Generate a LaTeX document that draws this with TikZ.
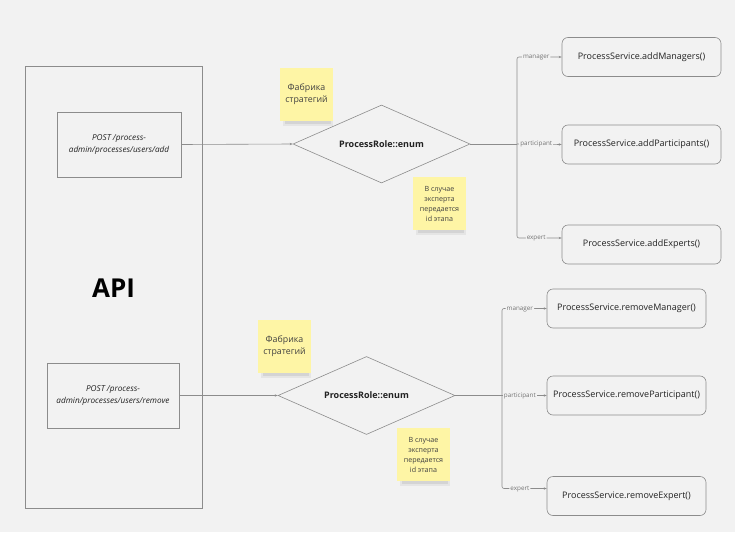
\documentclass[tikz,border=0pt]{standalone}
\usepackage{fontspec}
\setmainfont{Open Sans}
\usetikzlibrary{shapes.geometric,arrows.meta,calc}
\definecolor{bg}{HTML}{F2F2F2}
\definecolor{ln}{HTML}{8C8C8C}
\definecolor{sticky}{HTML}{FEF5A5}
\definecolor{txt}{HTML}{222222}
\tikzset{
  box/.style={draw=ln,line width=0.6pt,fill=bg,inner sep=0pt,text=txt},
  rbox/.style={box,rounded corners=6pt,minimum width=159pt,minimum height=39pt,font=\fontsize{9}{11}\selectfont},
  dia/.style={draw=ln,line width=0.6pt,diamond,aspect=2.27,minimum width=177pt,minimum height=78pt,inner sep=0pt,font=\bfseries\fontsize{9}{11}\selectfont,text=txt},
  note/.style={fill=sticky,minimum width=53pt,minimum height=53pt,inner sep=0pt,align=center,text=black!75},
  conn/.style={draw=ln,line width=0.6pt},
  tip/.tip={Stealth[length=3pt,width=2.4pt]},
  arr/.style={conn,-tip},
  lab/.style={fill=bg,inner sep=1pt,text height=4.4pt,text depth=1.4pt,font=\fontsize{6.3}{7}\selectfont,text=black!55},
  epbox/.style={box,minimum height=65pt,align=center,font=\itshape\fontsize{8.2}{12}\selectfont},
}
\begin{document}
\begin{tikzpicture}[x=1pt,y=-1pt]
\fill[bg] (0,0) rectangle (735,532);
\useasboundingbox (0,0) rectangle (735,532);
% API container
\node[box,minimum width=177pt,minimum height=442pt,fill=none] (api) at (113.5,287) {};
\node[font=\bfseries\fontsize{26}{30}\selectfont,text=black] (apit) at (113.5,288) {API};
% endpoints
\node[epbox,minimum width=124pt] (ep1) at (119,144.5) {POST /process-\\admin/processes/users/add};
\node[epbox,minimum width=132pt] (ep2) at (113,395.5) {POST /process-\\admin/processes/users/remove};
% diamonds
\node[dia] (d1) at (381.5,144) {ProcessRole::enum};
\node[dia] (d2) at (366.5,395.5) {ProcessRole::enum};
% sticky shadows
\foreach \x/\y in {285/120,418/229,263/372,402/480}{
  \fill[black,opacity=0.05] (\x-2,\y-1) rectangle (\x+48,\y+6);
  \fill[black,opacity=0.07] (\x,\y) rectangle (\x+46,\y+4);
}
% sticky notes
\node[note,font=\fontsize{8.8}{12}\selectfont] (n1) at (306.5,94.5) {Фабрика\\стратегий};
\node[note,font=\fontsize{7.1}{10}\selectfont] (n2) at (439.5,203.5) {В случае\\эксперта\\передается\\id этапа};
\node[note,font=\fontsize{8.8}{12}\selectfont] (n3) at (284.5,346.5) {Фабрика\\стратегий};
\node[note,font=\fontsize{7.1}{10}\selectfont] (n4) at (423.5,454.5) {В случае\\эксперта\\передается\\id этапа};
% target boxes
\node[rbox] (am) at (641.5,57) {ProcessService.addManagers()};
\node[rbox] (ap) at (641.5,144.5) {ProcessService.addParticipants()};
\node[rbox] (ae) at (641.5,244.5) {ProcessService.addExperts()};
\node[rbox] (rm) at (626.5,308.5) {ProcessService.removeManager()};
\node[rbox] (rp) at (626.5,395.5) {ProcessService.removeParticipant()};
\node[rbox] (re) at (626.5,496) {ProcessService.removeExpert()};
% connectors endpoint -> diamond
\draw[arr] (ep1.east) -- (d1.west);
\draw[arr] (ep2.east) -- (d2.west);
% branch 1
\coordinate (b1) at (517,144);
\coordinate (b1t) at (517,57);
\coordinate (b1b) at (517,238);
\draw[conn] (d1.east) -- (b1);
\draw[conn,rounded corners=2pt,tip-tip] (am.west) -- node[lab,pos=0.57] {manager} (b1t) -- (b1b) -- node[lab,pos=0.43] {expert} (ae.west |- b1b);
\draw[arr] (b1) -- node[lab,pos=0.43] {participant} (ap.west);
% branch 2
\coordinate (b2) at (502,395.5);
\coordinate (b2t) at (502,308.5);
\coordinate (b2b) at (502,488.5);
\draw[conn] (d2.east) -- (b2);
\draw[conn,rounded corners=2pt,tip-tip] (rm.west) -- node[lab,pos=0.6] {manager} (b2t) -- (b2b) -- node[lab,pos=0.4] {expert} (re.west |- b2b);
\draw[arr] (b2) -- node[lab,pos=0.4] {participant} (rp.west);
\end{tikzpicture}
\end{document}
